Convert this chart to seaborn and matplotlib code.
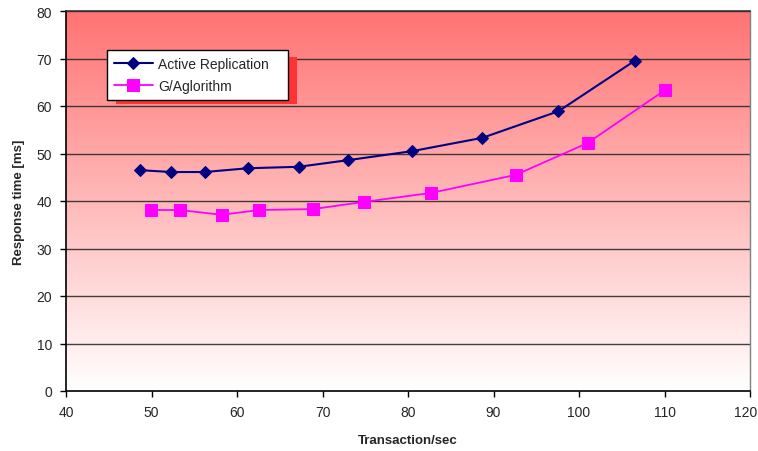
import numpy as np
import pandas as pd
import matplotlib
matplotlib.use("Agg")
import matplotlib.pyplot as plt
from matplotlib.patches import Rectangle
from matplotlib.transforms import ScaledTranslation
import seaborn as sns

ar_x = [48.6, 52.3, 56.2, 61.3, 67.2, 73.0, 80.5, 88.7, 97.6, 106.5]
ar_y = [46.5, 46.1, 46.1, 46.9, 47.2, 48.6, 50.5, 53.3, 58.9, 69.5]
g_x = [49.9, 53.3, 58.2, 62.6, 68.9, 74.8, 82.7, 92.6, 101.0, 110.1]
g_y = [38.1, 38.1, 37.1, 38.1, 38.3, 39.8, 41.7, 45.5, 52.2, 63.4]
series_names = ["Active Replication", "G/Aglorithm"]
x_ticks = [40, 50, 60, 70, 80, 90, 100, 110, 120]
y_ticks = [0, 10, 20, 30, 40, 50, 60, 70, 80]

sns.set_style("white")
plt.rcParams['font.family'] = ['Liberation Sans', 'DejaVu Sans']

fig = plt.figure(figsize=(7.58, 4.52), dpi=100)
ax = fig.add_axes([66/758, 60/452, 684/758, 380/452])

# gradient background
grad = np.linspace(0, 1, 256).reshape(-1, 1)
top = np.array([255, 115, 115]) / 255
bot = np.array([255, 255, 255]) / 255
img = top[None, None, :] * (1 - grad[:, :, None]) + bot[None, None, :] * grad[:, :, None]
ax.imshow(img, extent=[40, 120, 0, 80], aspect='auto', origin='upper', zorder=0)

for yv in y_ticks[1:]:
    ax.axhline(yv, color='#222222', lw=1.0, zorder=1, alpha=0.85)

df1 = pd.DataFrame({"x": ar_x, "y": ar_y})
df2 = pd.DataFrame({"x": g_x, "y": g_y})
sns.lineplot(data=df1, x="x", y="y", ax=ax, color='#000080', marker='D', markersize=6,
             markeredgecolor='#000080', lw=1.5, label=series_names[0], zorder=3, sort=False)
sns.lineplot(data=df2, x="x", y="y", ax=ax, color='#FF00FF', marker='s', markersize=8.5,
             markeredgecolor='#FF00FF', lw=1.3, label=series_names[1], zorder=3, sort=False)

ax.set_xlim(40, 120)
ax.set_ylim(0, 80)
ax.set_xticks(x_ticks)
ax.set_yticks(y_ticks)
ax.tick_params(axis='both', labelsize=10, length=4, width=1, color='black', direction='out',
               bottom=True, left=True)
ax.tick_params(axis='x', pad=6)
ax.tick_params(axis='y', pad=6)
ax.set_xlabel("Transaction/sec", fontsize=9.5, fontweight='bold', labelpad=11)
ax.set_ylabel("Response time [ms]", fontsize=9.5, fontweight='bold', labelpad=8)

# keep the last x tick label inside the figure
last = ax.get_xticklabels()[-1]
last.set_transform(last.get_transform() + ScaledTranslation(-4/100, 0, fig.dpi_scale_trans))

for s in ['left', 'bottom']:
    ax.spines[s].set_color('black')
    ax.spines[s].set_linewidth(1.2)
ax.spines['top'].set_color('#333333')
ax.spines['top'].set_linewidth(1.2)
ax.spines['right'].set_color('#808080')
ax.spines['right'].set_linewidth(1.0)
for s in ax.spines.values():
    s.set_zorder(4)

# legend shadow
ax.add_patch(Rectangle((0.073, 0.754), 0.265, 0.124, transform=ax.transAxes,
                       facecolor='#FF3333', edgecolor='none', zorder=5))
leg = ax.legend(loc='upper left', bbox_to_anchor=(0.06, 0.898, 0.265, 0.0), mode='expand',
                frameon=True, fancybox=False, fontsize=10, borderpad=0.5, handlelength=2.8,
                labelspacing=0.6, handletextpad=0.4, borderaxespad=0)
leg.get_frame().set_edgecolor('black')
leg.get_frame().set_linewidth(1.0)
leg.get_frame().set_facecolor('white')
leg.get_frame().set_alpha(1)
leg.set_zorder(6)

fig.savefig("out.png", dpi=100)
